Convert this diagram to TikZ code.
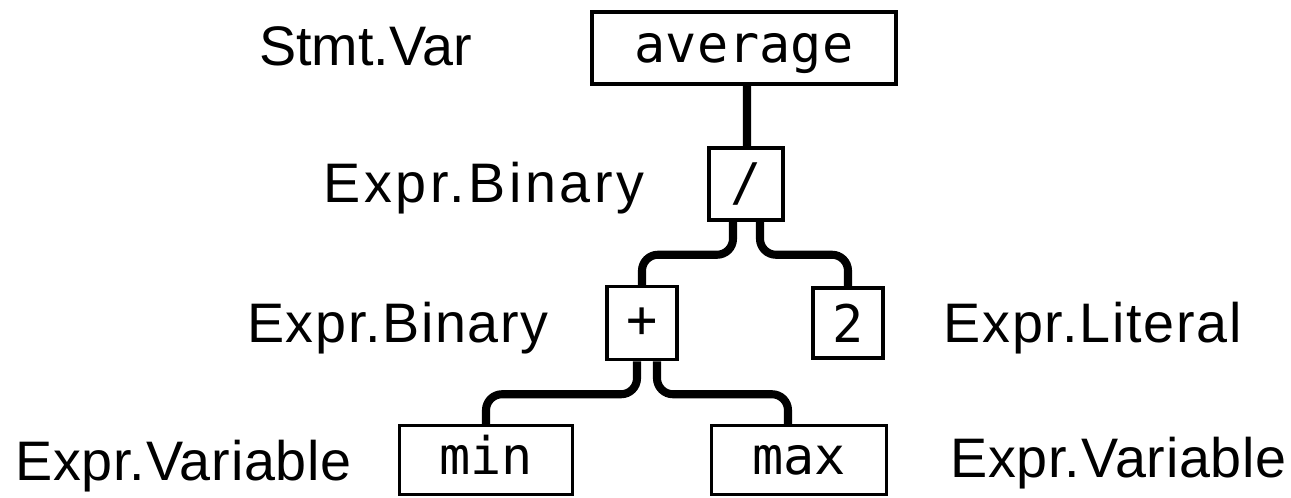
\documentclass[tikz,border=0pt]{standalone}
\usepackage{fontspec}
\setmainfont{Liberation Sans}
\newfontfamily\boxfont{DejaVu Sans Mono}

\tikzset{
  treebox/.style={draw=black, line width=2pt, fill=white, inner sep=0pt,
    font=\boxfont\fontsize{29.5}{34}\selectfont},
  wordbox/.style={treebox, text height=0.572cm, text depth=0pt},
  symbox/.style={treebox},
  edge/.style={draw=black, line width=4.6pt, rounded corners=0.32cm},
  kind/.style={inner sep=0pt,
    font=\fontsize{31.7}{38}\selectfont\addfontfeatures{LetterSpace=#1}},
  kind/.default=0,
}

\begin{document}
\begin{tikzpicture}[x=0.02cm, y=-0.02cm]
  \useasboundingbox (0,0) rectangle (1291,497);

  % syntax tree nodes
  \node[wordbox, minimum width=6.08cm, minimum height=1.44cm] (avg) at (744,48) {average};
  \node[symbox, minimum width=1.48cm, minimum height=1.44cm] (div) at (746,184) {/};
  \node[symbox, minimum width=1.40cm, minimum height=1.46cm] (plus) at (642,323) {+};
  \node[symbox, minimum width=1.40cm, minimum height=1.40cm] (two) at (848,323) {2};
  \node[wordbox, minimum width=3.46cm, minimum height=1.38cm] (min) at (486,460) {min};
  \node[wordbox, minimum width=3.50cm, minimum height=1.38cm] (max) at (799,460) {max};

  % node kinds
  \node[kind=0, anchor=base east] (kvar) at (472,65) {Stmt.Var};
  \node[kind=6.5, anchor=base east] (kdiv) at (645,202) {Expr.Binary};
  \node[kind=3, anchor=base east] (kplus) at (549,342) {Expr.Binary};
  \node[kind=3.3, anchor=base west] (ktwo) at (943,342) {Expr.Literal};
  \node[kind=1.4, anchor=base west] (kmin) at (15,480) {Expr.Variable};
  \node[kind=1.4, anchor=base west] (kmax) at (950,477) {Expr.Variable};

  % branches
  \draw[edge] ([xshift=0.06cm]avg.south) -- ([xshift=0.02cm]div.north);
  \draw[edge] ([xshift=-0.26cm]div.south) -- ++(0,33) -| (plus.north);
  \draw[edge] ([xshift=0.28cm]div.south) -- ++(0,33) -| (two.north);
  \draw[edge] ([xshift=-0.10cm]plus.south) -- ++(0,33) -| (min.north);
  \draw[edge] ([xshift=0.30cm]plus.south) -- ++(0,33) -| ([xshift=-0.22cm]max.north);
\end{tikzpicture}
\end{document}
